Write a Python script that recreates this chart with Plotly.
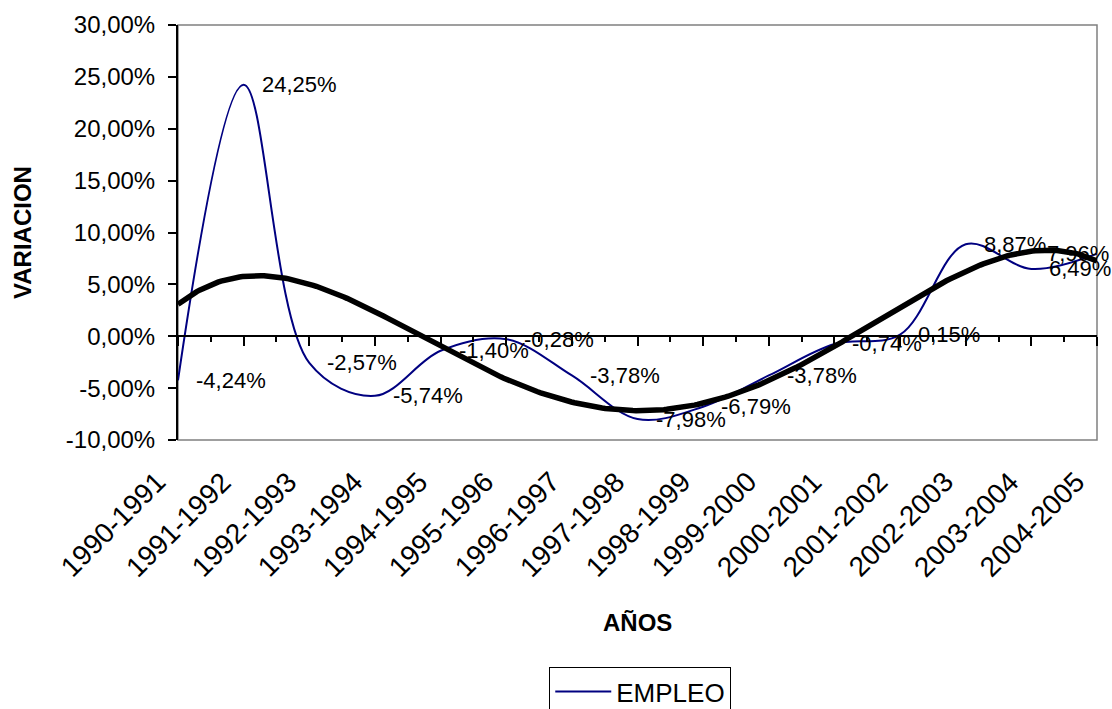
import numpy as np
import plotly.graph_objects as go

# Periods and year-on-year employment change (%)
periodos = ["1990-1991", "1991-1992", "1992-1993", "1993-1994", "1994-1995",
            "1995-1996", "1996-1997", "1997-1998", "1998-1999", "1999-2000",
            "2000-2001", "2001-2002", "2002-2003", "2003-2004", "2004-2005"]
empleo = [-4.24, 24.25, -2.57, -5.74, -1.40, -0.28, -3.78, -7.98,
          -6.79, -3.78, -0.74, 0.15, 8.87, 6.49, 7.96]
y_ticks = [-10, -5, 0, 5, 10, 15, 20, 25, 30]

FONT = "Liberation Sans, Arial, sans-serif"
idx = np.arange(len(periodos))


def fmt(v):
    return f"{v:.2f}%".replace(".", ",")


# Polynomial trend line fitted on positions 1..n like a spreadsheet trendline
n_pos = idx + 1
coef = np.polyfit(n_pos, empleo, 4)
xs = np.linspace(1, len(periodos), 300)
trend = np.polyval(coef, xs)

fig = go.Figure()

fig.add_trace(go.Scatter(
    x=idx, y=empleo, mode="lines", name="EMPLEO",
    line=dict(color="#000080", width=2, shape="spline", smoothing=1),
    xaxis="x", yaxis="y", showlegend=True,
))

fig.add_trace(go.Scatter(
    x=xs - 1, y=trend, mode="lines", name="Tendencia",
    line=dict(color="#000000", width=5.5),
    xaxis="x2", yaxis="y", showlegend=False, hoverinfo="skip",
))

annotations = []

# Value labels to the right of each point
for i, v in enumerate(empleo):
    last = i == len(empleo) - 1
    annotations.append(dict(
        x=i, y=v, xref="x", yref="y", text=fmt(v), showarrow=False,
        xanchor="right" if last else "left", yanchor="middle",
        xshift=14 if last else 16,
        font=dict(family=FONT, size=22, color="#000000"),
    ))

# Slanted period labels below the plot area, ending under each category
for i, p in enumerate(periodos):
    annotations.append(dict(
        x=i, y=0, xref="x", yref="paper", text=p, showarrow=False,
        textangle=-45, xanchor="right", yanchor="top",
        xshift=-4, yshift=-23,
        font=dict(family=FONT, size=28, color="#000000"),
    ))

annotations.append(dict(
    x=-0.1692, y=0.5, xref="paper", yref="paper", text="<b>VARIACION</b>",
    textangle=-90, showarrow=False, xanchor="center", yanchor="middle",
    font=dict(family=FONT, size=24, color="#000000"),
))
annotations.append(dict(
    x=0.5, y=-0.4386, xref="paper", yref="paper", text="<b>AÑOS</b>",
    showarrow=False, xanchor="center", yanchor="middle",
    font=dict(family=FONT, size=24, color="#000000"),
))

y_min, y_max = y_ticks[0], y_ticks[-1]
zero_pos = (0 - y_min) / (y_max - y_min)

fig.update_layout(
    width=1112, height=709,
    margin=dict(l=178, r=15, t=25, b=269, autoexpand=False),
    paper_bgcolor="#ffffff", plot_bgcolor="#ffffff",
    font=dict(family=FONT, size=24, color="#000000"),
    xaxis=dict(
        range=[0, len(periodos) - 1], tickvals=idx.tolist(), ticktext=periodos,
        showticklabels=False, ticks="", showline=False, showgrid=False,
        zeroline=False, automargin=False,
    ),
    xaxis2=dict(
        overlaying="x", matches="x", anchor="free", position=zero_pos,
        range=[0, len(periodos) - 1], showline=True, linecolor="#000000", linewidth=2,
        ticks="outside", ticklen=9, tickwidth=2, tickcolor="#000000",
        tickmode="linear", tick0=0, dtick=1,
        minor=dict(ticks="outside", ticklen=5, tickwidth=2, tickcolor="#000000",
                   tickmode="linear", tick0=0.5, dtick=1),
        showticklabels=False, showgrid=False, zeroline=False, automargin=False,
    ),
    yaxis=dict(
        range=[y_min, y_max], tickvals=y_ticks, ticktext=[fmt(t) for t in y_ticks],
        showline=True, linecolor="#000000", linewidth=2,
        ticks="outside", ticklen=8, tickwidth=2, tickcolor="#000000",
        showgrid=False, zeroline=False, ticklabelstandoff=8,
        tickfont=dict(family=FONT, size=24, color="#000000"), automargin=False,
    ),
    shapes=[dict(
        type="rect", xref="x domain", yref="y domain", x0=0, x1=1, y0=0, y1=1,
        line=dict(color="#808080", width=1.5), layer="below",
    )],
    annotations=annotations,
    legend=dict(
        x=0.503, y=-0.547, xanchor="center", yanchor="top", orientation="h",
        bordercolor="#000000", borderwidth=1, bgcolor="#ffffff",
        itemwidth=56,
        font=dict(family=FONT, size=26, color="#000000"),
    ),
)

fig.write_html("out.html")
